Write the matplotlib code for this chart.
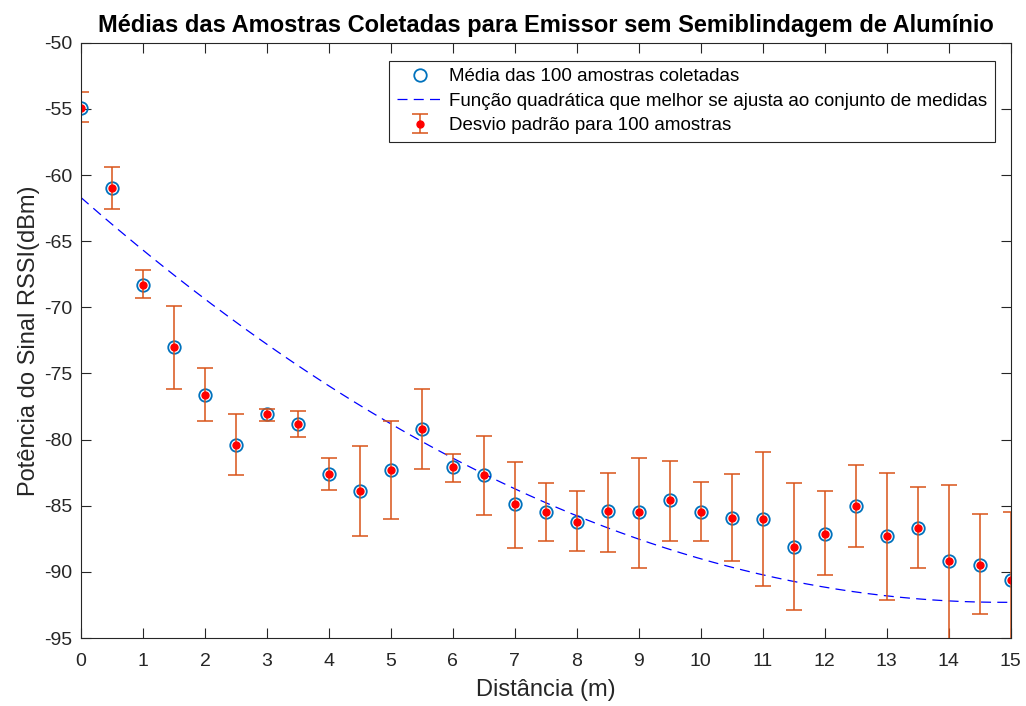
import matplotlib
matplotlib.use('Agg')
import matplotlib.pyplot as plt
import numpy as np

plt.rcParams['font.family'] = ['Liberation Sans', 'DejaVu Sans']
plt.rcParams['axes.unicode_minus'] = False

# distancia (m) e medias RSSI (dBm)
dist = np.arange(0, 15.5, 0.5)
media = [-54.9, -61.0, -68.3, -73.0, -76.6, -80.4, -78.1, -78.8, -82.6, -83.9,
         -82.3, -79.2, -82.1, -82.7, -84.9, -85.5, -86.2, -85.4, -85.5, -84.6,
         -85.5, -85.9, -86.0, -88.1, -87.1, -85.0, -87.3, -86.7, -89.2, -89.5,
         -90.6]
lim_sup = [-53.7, -59.4, -67.2, -69.9, -74.6, -78.1, -77.7, -77.8, -81.4, -80.5,
           -78.6, -76.2, -81.1, -79.7, -81.7, -83.3, -83.9, -82.5, -81.4, -81.6,
           -83.2, -82.6, -80.9, -83.3, -83.9, -81.9, -82.5, -83.6, -83.4, -85.6,
           -85.5]
lim_inf = [-56.0, -62.6, -69.3, -76.2, -78.6, -82.7, -78.6, -79.8, -83.8, -87.3,
           -86.0, -82.2, -83.2, -85.7, -88.2, -87.7, -88.4, -88.5, -89.7, -87.7,
           -87.7, -89.2, -91.1, -92.9, -90.2, -88.1, -92.1, -89.7, -95.6, -93.2,
           -96.0]
# coeficientes da funcao quadratica
coef = [0.1382, -4.113, -61.7]

media = np.array(media)
err_sup = np.array(lim_sup) - media
err_inf = media - np.array(lim_inf)

xf = np.linspace(0, 15, 300)
yf = np.polyval(coef, xf)

fig = plt.figure(figsize=(10.26, 7.06), dpi=100)
ax = fig.add_axes([0.079, 0.0963, 0.906, 0.843])

h1, = ax.plot(dist, media, 'o', mfc='none', mec='#0072BD', ms=9, mew=1.3,
              label='Média das 100 amostras coletadas')
h2, = ax.plot(xf, yf, '--', color='blue', lw=0.9, dashes=(8, 5),
              label='Função quadrática que melhor se ajusta ao conjunto de medidas')
h3 = ax.errorbar(dist, media, yerr=[err_inf, err_sup], fmt='.', color='#D95319',
                 mfc='red', mec='red', ms=10, capsize=6, elinewidth=1.1,
                 capthick=1.1, label='Desvio padrão para 100 amostras')

ax.set_xlim(0, 15)
ax.set_ylim(-95, -50)
ax.set_xticks(range(0, 16))
ax.set_yticks(range(-95, -49, 5))
ax.tick_params(direction='in', top=True, right=True, labelsize=14,
               colors='#262626', length=7, width=0.8)
ax.tick_params(axis='x', pad=11)
ax.tick_params(axis='y', pad=6)
for s in ax.spines.values():
    s.set_color('#262626')
    s.set_linewidth(0.8)

ax.set_xlabel('Distância (m)', fontsize=17, color='#262626', labelpad=6)
ax.set_ylabel('Potência do Sinal RSSI(dBm)', fontsize=17, color='#262626', labelpad=3)
ax.set_title('Médias das Amostras Coletadas para Emissor sem Semiblindagem de Alumínio',
             fontsize=17, fontweight='bold', pad=8)

leg = ax.legend(handles=[h1, h2, h3], loc='upper right', fontsize=13.5,
                fancybox=False, edgecolor='#262626', framealpha=1,
                bbox_to_anchor=(0.993, 0.986), borderpad=0.4, labelspacing=0.4,
                handlelength=2.5, handletextpad=0.3)
leg.get_frame().set_linewidth(0.8)

fig.savefig('out.png', dpi=100)
